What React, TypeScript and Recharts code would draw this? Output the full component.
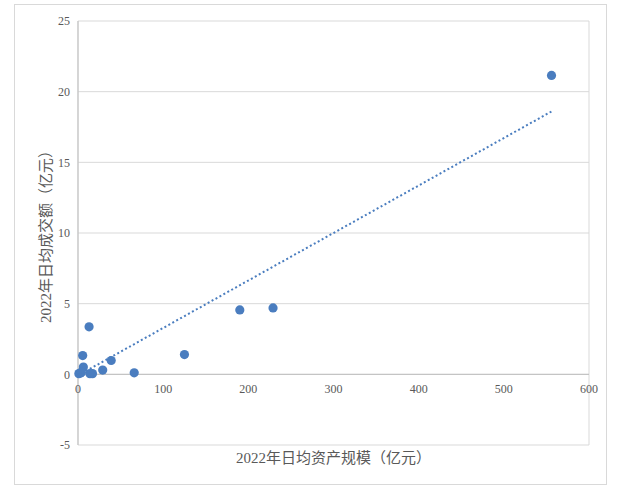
import React from 'react';
import { ScatterChart, Scatter, XAxis, YAxis, CartesianGrid, ReferenceLine, ReferenceDot } from 'recharts';

const assetScale = [556, 229, 190, 125, 66, 39, 29, 13, 5.5, 6.3, 17, 14, 3, 1, 4];
const dailyVolume = [21.15, 4.7, 4.56, 1.4, 0.11, 0.98, 0.3, 3.36, 1.33, 0.52, 0.05, 0.05, 0.1, 0.05, 0.15];
const xTicks = [0, 100, 200, 300, 400, 500, 600];
const yTicks = [-5, 0, 5, 10, 15, 20, 25];
const trendX = [0, 556];
const trendY = [-0.08, 18.6];

const points = assetScale.map((x, i) => ({ x, y: dailyVolume[i] }));
const trend = trendX.map((x, i) => ({ x, y: trendY[i] }));

const FONT = "'Liberation Serif', 'Noto Sans CJK SC', serif";
const TEXT = '#595959';
const BLUE = '#4a7dbf';

export default function App() {
  return (
    <div style={{ position: 'absolute', left: 0, top: 0, width: 619, height: 494, background: '#fff' }}>
      <div
        style={{
          position: 'absolute',
          left: 14,
          top: 4,
          width: 593,
          height: 481,
          border: '1px solid #d9d9d9',
          boxSizing: 'border-box',
        }}
      />
      <div style={{ position: 'absolute', left: 0, top: 0 }}>
        <ScatterChart width={619} height={494} margin={{ top: 21, right: 30, bottom: 23, left: 14 }}>
          <CartesianGrid stroke="#d9d9d9" strokeWidth={1} />
          <XAxis
            type="number"
            dataKey="x"
            domain={[0, 600]}
            ticks={xTicks}
            tick={false}
            tickLine={false}
            axisLine={false}
            height={26}
            label={{
              value: '2022年日均资产规模（亿元）',
              position: 'center',
              fill: TEXT,
              fontSize: 15,
              fontFamily: FONT,
            }}
          />
          <YAxis
            type="number"
            dataKey="y"
            domain={[-5, 25]}
            ticks={yTicks}
            width={64}
            tickLine={false}
            axisLine={{ stroke: '#bfbfbf' }}
            tick={{ fill: TEXT, fontSize: 12, fontFamily: FONT }}
            label={{
              value: '2022年日均成交额（亿元）',
              angle: -90,
              position: 'center',
              fill: TEXT,
              fontSize: 15,
              fontFamily: FONT,
            }}
          />
          <ReferenceLine y={0} stroke="#bfbfbf" strokeWidth={1} />
          {xTicks.map((t) => (
            <ReferenceDot
              key={t}
              x={t}
              y={0}
              r={0}
              fill="none"
              stroke="none"
              label={{ value: String(t), position: 'bottom', offset: 10, fill: TEXT, fontSize: 12, fontFamily: FONT }}
            />
          ))}
          <Scatter data={points} fill={BLUE} isAnimationActive={false} shape={(p: any) => <circle cx={p.cx} cy={p.cy} r={4.6} fill={BLUE} />} />
          <Scatter
            data={trend}
            isAnimationActive={false}
            line={{ stroke: BLUE, strokeWidth: 2, strokeDasharray: '2 2.5' }}
            shape={() => <g />}
          />
        </ScatterChart>
      </div>
    </div>
  );
}
